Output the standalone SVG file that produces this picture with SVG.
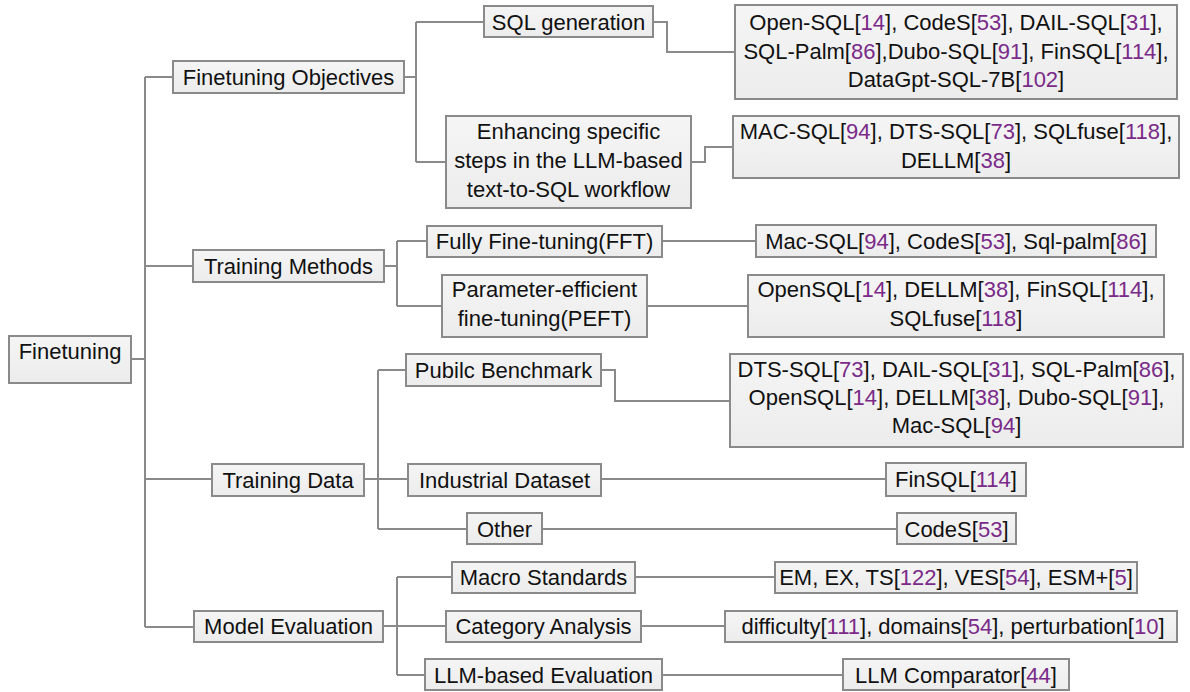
<svg xmlns="http://www.w3.org/2000/svg" width="1190" height="692" viewBox="0 0 1190 692">
<defs>
<linearGradient id="boxfill" x1="0" y1="0" x2="0" y2="1">
<stop offset="0" stop-color="#f5f5f5"/>
<stop offset="1" stop-color="#ececec"/>
</linearGradient>
<style>
.box{fill:url(#boxfill);stroke:#8a8a8a;stroke-width:2}
.t{font-family:"Liberation Sans",Arial,sans-serif;font-size:22px;fill:#111;text-anchor:middle}
.c{fill:#7a2a88}
.edge{fill:none;stroke:#8a8a8a;stroke-width:2}
</style>
</defs>
<rect width="1190" height="692" fill="#ffffff"/>
<g id="connectors">
<path class="edge" d="M131,359 H145 M145,77 V627 M145,77 H173 M145,266 H193 M145,479 H212 M145,627 H194"/>
<path class="edge" d="M404,77 H416 M416,22 V162 M416,22 H484 M416,162 H446"/>
<path class="edge" d="M653,22 H667 V52 H735"/>
<path class="edge" d="M691,162 H705 V147 H733"/>
<path class="edge" d="M384,266 H397 M397,241 V306 M397,241 H427 M397,306 H442"/>
<path class="edge" d="M662,241 H756 M647,306 H748"/>
<path class="edge" d="M364,479 H378 M378,370 V529 M378,370 H406 M378,479 H408 M378,529 H467"/>
<path class="edge" d="M601,370 H615 V401 H730"/>
<path class="edge" d="M601,479 H886 M542,529 H897"/>
<path class="edge" d="M383,626 H397 M397,577 V675 M397,577 H452 M397,626 H446 M397,675 H425"/>
<path class="edge" d="M635,577 H775 M641,626 H725 M662,675 H843"/>
</g>
<g id="n-root"><rect class="box" x="9" y="336" width="122" height="47"/><text class="t" x="70" y="359">Finetuning</text></g>
<g id="n-fo"><rect class="box" x="173" y="61" width="231" height="32"/><text class="t" x="288.5" y="85">Finetuning Objectives</text></g>
<g id="n-sqlgen"><rect class="box" x="484" y="6" width="169" height="31"/><text class="t" x="568.5" y="30">SQL generation</text></g>
<g id="n-enh"><rect class="box" x="446" y="116" width="245" height="92"/><text class="t" x="568.5" y="139">Enhancing specific</text><text class="t" x="568.5" y="168">steps in the LLM-based</text><text class="t" x="568.5" y="197">text-to-SQL workflow</text></g>
<g id="n-l1"><rect class="box" x="735" y="5" width="442" height="94"/><text class="t" x="956" y="30">Open-SQL[<tspan class="c">14</tspan>], CodeS[<tspan class="c">53</tspan>], DAIL-SQL[<tspan class="c">31</tspan>],</text><text class="t" x="956" y="59">SQL-Palm[<tspan class="c">86</tspan>],Dubo-SQL[<tspan class="c">91</tspan>], FinSQL[<tspan class="c">114</tspan>],</text><text class="t" x="956" y="87">DataGpt-SQL-7B[<tspan class="c">102</tspan>]</text></g>
<g id="n-l2"><rect class="box" x="733" y="116" width="446" height="62"/><text class="t" x="956" y="139">MAC-SQL[<tspan class="c">94</tspan>], DTS-SQL[<tspan class="c">73</tspan>], SQLfuse[<tspan class="c">118</tspan>],</text><text class="t" x="956" y="168">DELLM[<tspan class="c">38</tspan>]</text></g>
<g id="n-tm"><rect class="box" x="193" y="250" width="191" height="32"/><text class="t" x="288.5" y="274">Training Methods</text></g>
<g id="n-fft"><rect class="box" x="427" y="226" width="235" height="31"/><text class="t" x="544.5" y="249">Fully Fine-tuning(FFT)</text></g>
<g id="n-peft"><rect class="box" x="442" y="275" width="205" height="62"/><text class="t" x="544.5" y="297">Parameter-efficient</text><text class="t" x="544.5" y="326">fine-tuning(PEFT)</text></g>
<g id="n-l3"><rect class="box" x="756" y="225" width="400" height="32"/><text class="t" x="956" y="249">Mac-SQL[<tspan class="c">94</tspan>], CodeS[<tspan class="c">53</tspan>], Sql-palm[<tspan class="c">86</tspan>]</text></g>
<g id="n-l4"><rect class="box" x="748" y="275" width="416" height="62"/><text class="t" x="956" y="297">OpenSQL[<tspan class="c">14</tspan>], DELLM[<tspan class="c">38</tspan>], FinSQL[<tspan class="c">114</tspan>],</text><text class="t" x="956" y="326">SQLfuse[<tspan class="c">118</tspan>]</text></g>
<g id="n-td"><rect class="box" x="212" y="464" width="152" height="32"/><text class="t" x="288" y="488">Training Data</text></g>
<g id="n-pb"><rect class="box" x="406" y="354" width="195" height="32"/><text class="t" x="503.5" y="378">Pubilc Benchmark</text></g>
<g id="n-l5"><rect class="box" x="730" y="354" width="453" height="93"/><text class="t" x="956.5" y="377">DTS-SQL[<tspan class="c">73</tspan>], DAIL-SQL[<tspan class="c">31</tspan>], SQL-Palm[<tspan class="c">86</tspan>],</text><text class="t" x="956.5" y="405">OpenSQL[<tspan class="c">14</tspan>], DELLM[<tspan class="c">38</tspan>], Dubo-SQL[<tspan class="c">91</tspan>],</text><text class="t" x="956.5" y="433">Mac-SQL[<tspan class="c">94</tspan>]</text></g>
<g id="n-id"><rect class="box" x="408" y="464" width="193" height="32"/><text class="t" x="504.5" y="488">Industrial Dataset</text></g>
<g id="n-l6"><rect class="box" x="886" y="463" width="140" height="33"/><text class="t" x="956" y="487">FinSQL[<tspan class="c">114</tspan>]</text></g>
<g id="n-other"><rect class="box" x="467" y="513" width="75" height="31"/><text class="t" x="504.5" y="537">Other</text></g>
<g id="n-l7"><rect class="box" x="897" y="513" width="119" height="31"/><text class="t" x="956.5" y="537">CodeS[<tspan class="c">53</tspan>]</text></g>
<g id="n-me"><rect class="box" x="194" y="611" width="189" height="31"/><text class="t" x="288.5" y="634">Model Evaluation</text></g>
<g id="n-ms"><rect class="box" x="452" y="562" width="183" height="31"/><text class="t" x="543.5" y="585">Macro Standards</text></g>
<g id="n-ca"><rect class="box" x="446" y="611" width="195" height="31"/><text class="t" x="543.5" y="634">Category Analysis</text></g>
<g id="n-llme"><rect class="box" x="425" y="659" width="237" height="31"/><text class="t" x="543.5" y="683">LLM-based Evaluation</text></g>
<g id="n-l8"><rect class="box" x="775" y="562" width="362" height="31"/><text class="t" x="956" y="585">EM, EX, TS[<tspan class="c">122</tspan>], VES[<tspan class="c">54</tspan>], ESM+[<tspan class="c">5</tspan>]</text></g>
<g id="n-l9"><rect class="box" x="725" y="611" width="452" height="31"/><text class="t" x="953" y="634">difficulty[<tspan class="c">111</tspan>], domains[<tspan class="c">54</tspan>], perturbation[<tspan class="c">10</tspan>]</text></g>
<g id="n-l10"><rect class="box" x="843" y="659" width="226" height="31"/><text class="t" x="956" y="683">LLM Comparator[<tspan class="c">44</tspan>]</text></g>
</svg>
